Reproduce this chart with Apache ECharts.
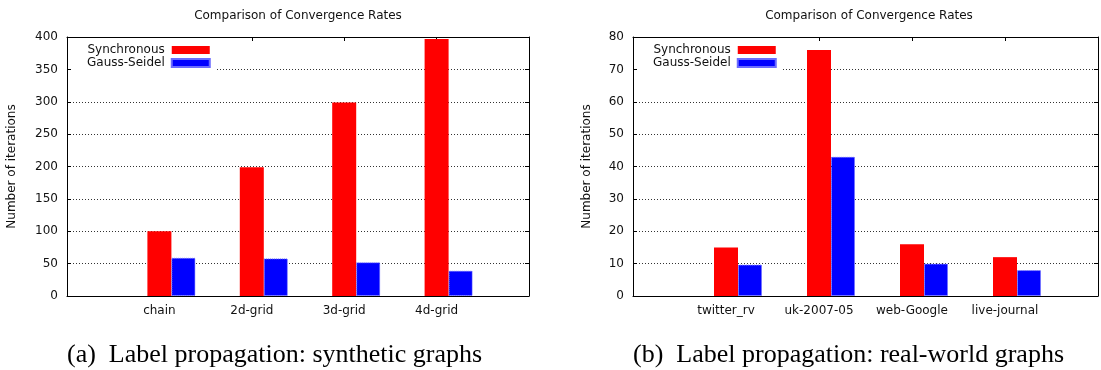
<!DOCTYPE html>
<html>
<head>
<meta charset="utf-8">
<title>Comparison of Convergence Rates</title>
<script src="https://cdn.jsdelivr.net/npm/echarts@6/dist/echarts.min.js"></script>
<style>
  html, body { margin: 0; padding: 0; background: #fff; }
  #chart { width: 1101px; height: 370px; }
</style>
</head>
<body>
<div id="chart"></div>
<script>
// (a) synthetic graphs
const synthCats = ['chain', '2d-grid', '3d-grid', '4d-grid']
const synthSync = [100, 199, 299, 397]
const synthGauss = [59, 58, 52, 39]
const synthY = [0, 400, 50] // min, max, step

// (b) real-world graphs
const realCats = ['twitter_rv', 'uk-2007-05', 'web-Google', 'live-journal']
const realSync = [15, 76, 16, 12]
const realGauss = [9.7, 43, 10, 8]
const realY = [0, 80, 10]

const seriesNames = ['Synchronous', 'Gauss-Seidel']
const chartTitle = 'Comparison of Convergence Rates'
const yName = 'Number of iterations'
const captions = ['(a)  Label propagation: synthetic graphs', '(b)  Label propagation: real-world graphs']

const sans = 'DejaVu Sans'
const serif = 'Liberation Serif'
const ink = '#111'

// gnuplot leaves an empty slot at both ends of the x range
const padCats = arr => ['', ...arr, '']
const padVals = arr => [null, ...arr, null]

const option = {
  animation: false,
  backgroundColor: '#fff',
  grid: [],
  xAxis: [],
  yAxis: [],
  legend: [],
  series: [],
  graphic: []
}

function addPanel (i, left, width, cats, sync, gauss, yRange, nameGap) {
  const top = 37
  const height = 259
  option.grid.push({ left: left, top: top, width: width, height: height })

  const tick = { show: true, inside: true, length: 4, interval: 0, lineStyle: { color: '#000' } }
  const line = { show: true, onZero: false, lineStyle: { color: '#000', width: 1 } }

  option.xAxis.push({
    type: 'category',
    gridIndex: i,
    data: padCats(cats),
    boundaryGap: false,
    axisLine: line,
    axisTick: tick,
    axisLabel: { interval: 0, margin: 9, fontFamily: sans, fontSize: 12, color: ink },
    splitLine: { show: false }
  })
  option.xAxis.push({
    type: 'category',
    gridIndex: i,
    position: 'top',
    data: padCats(cats),
    boundaryGap: false,
    axisLine: line,
    axisTick: tick,
    axisLabel: { show: false },
    splitLine: { show: false }
  })
  option.yAxis.push({
    type: 'value',
    gridIndex: i,
    min: yRange[0],
    max: yRange[1],
    interval: yRange[2],
    name: yName,
    nameLocation: 'middle',
    nameGap: nameGap,
    nameTextStyle: { fontFamily: sans, fontSize: 12, color: ink },
    axisLine: line,
    axisTick: tick,
    axisLabel: { margin: 9, fontFamily: sans, fontSize: 12, color: ink },
    splitLine: { show: true, lineStyle: { color: '#333', width: 1, type: [1, 2] } }
  })
  option.yAxis.push({
    type: 'value',
    gridIndex: i,
    position: 'right',
    min: yRange[0],
    max: yRange[1],
    interval: yRange[2],
    axisLine: line,
    axisTick: tick,
    axisLabel: { show: false },
    splitLine: { show: false }
  })

  const base = { type: 'bar', xAxisIndex: i * 2, yAxisIndex: i * 2, barWidth: 24, barGap: '0%' }
  // empty slot on the left so that the red bar sits centred on the tick
  option.series.push(Object.assign({}, base, {
    name: '_pad' + i,
    silent: true,
    data: padVals(cats.map(() => null)),
    itemStyle: { color: 'rgba(0,0,0,0)' }
  }))
  option.series.push(Object.assign({}, base, {
    name: seriesNames[0],
    data: padVals(sync),
    itemStyle: { color: '#ff0000' }
  }))
  option.series.push(Object.assign({}, base, {
    name: seriesNames[1],
    data: padVals(gauss),
    itemStyle: { color: '#0000ff', borderColor: '#6b6bff', borderWidth: 1, borderType: 'dotted' }
  }))

  option.legend.push({
    orient: 'vertical',
    left: left + 5,
    top: 38,
    align: 'right',
    padding: [6, 6, 3, 15],
    itemGap: 1,
    itemWidth: 38,
    itemHeight: 8,
    icon: 'rect',
    selectedMode: false,
    backgroundColor: '#fff',
    textStyle: { fontFamily: sans, fontSize: 12, color: ink, padding: [0, 2, 0, 0] },
    data: seriesNames
  })

  option.graphic.push({
    type: 'text',
    x: left + width / 2,
    y: 16,
    style: { text: chartTitle, textAlign: 'center', textVerticalAlign: 'middle', font: '12px "' + sans + '"', fill: ink }
  })
  option.graphic.push({
    type: 'text',
    x: left,
    y: 355,
    style: { text: captions[i], textAlign: 'left', textVerticalAlign: 'middle', font: '26px "' + serif + '"', fill: '#000' }
  })
}

addPanel(0, 67, 462, synthCats, synthSync, synthGauss, synthY, 49)
addPanel(1, 633, 472, realCats, realSync, realGauss, realY, 40)

const chart = echarts.init(document.getElementById('chart'))
chart.setOption(option)
window.addEventListener('resize', () => {
  chart.resize()
})
</script>
</body>
</html>
